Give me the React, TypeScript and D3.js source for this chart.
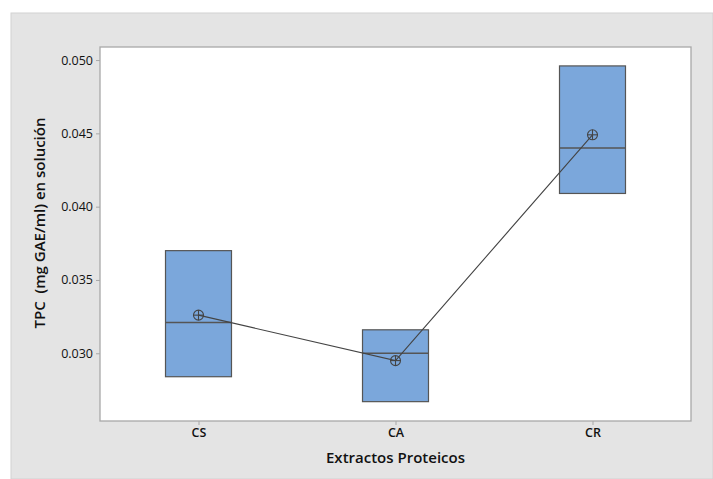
import React, { useEffect, useRef } from "react";
import * as d3 from "d3";

const categories = ["CS", "CA", "CR"];
const q1 = [0.0284, 0.0267, 0.0409];
const medians = [0.0321, 0.03, 0.044];
const q3 = [0.037, 0.0316, 0.0496];
const means = [0.0326, 0.0295, 0.0449];
const yTicks = [0.03, 0.035, 0.04, 0.045, 0.05];

export default function App() {
  const ref = useRef<SVGSVGElement | null>(null);

  useEffect(() => {
    if (!ref.current) return;
    const svg = d3.select(ref.current);
    svg.selectAll("*").remove();

    const W = 713;
    const H = 479;
    const plot = { left: 100, top: 47, right: 691, bottom: 421 };
    const font = "'Open Sans', 'Noto Sans', sans-serif";

    // gray panel
    svg.append("rect").attr("x", 0).attr("y", 0).attr("width", W).attr("height", H).attr("fill", "#fff");
    svg.append("rect").attr("x", 11).attr("y", 13).attr("width", W - 11).attr("height", H - 13)
      .attr("fill", "#e4e4e4").attr("stroke", "#d2d2d2").attr("stroke-width", 1);

    const x = d3.scalePoint<string>().domain(categories).range([plot.left, plot.right]).padding(0.5);
    const y = d3.scaleLinear().domain([0.02538, 0.05089]).range([plot.bottom, plot.top]);
    const boxW = x.step() * 0.335;

    svg.append("rect")
      .attr("x", plot.left).attr("y", plot.top)
      .attr("width", plot.right - plot.left).attr("height", plot.bottom - plot.top)
      .attr("fill", "#fff").attr("stroke", "#a8a8a8").attr("stroke-width", 1.3);

    // y axis
    const yAxis = svg.append("g")
      .attr("transform", `translate(${plot.left},0)`)
      .call(d3.axisLeft(y).tickValues(yTicks).tickFormat(d3.format(".3f")).tickSize(4).tickPadding(3));
    yAxis.select(".domain").remove();
    yAxis.selectAll("line").attr("stroke", "#a8a8a8");
    yAxis.selectAll("text").attr("font-family", font).attr("font-size", 12.5).attr("fill", "#111");

    // x axis
    const xAxis = svg.append("g")
      .attr("transform", `translate(0,${plot.bottom})`)
      .call(d3.axisBottom(x).tickSize(4).tickPadding(3));
    xAxis.select(".domain").remove();
    xAxis.selectAll("line").attr("stroke", "#a8a8a8");
    xAxis.selectAll("text").attr("font-family", font).attr("font-size", 12.5).attr("font-weight", 600).attr("fill", "#111");

    const data = categories.map((c, i) => ({ c, q1: q1[i], med: medians[i], q3: q3[i], mean: means[i] }));

    const boxes = svg.append("g");
    boxes.selectAll("rect").data(data).enter().append("rect")
      .attr("x", (d) => (x(d.c) as number) - boxW / 2)
      .attr("y", (d) => y(d.q3))
      .attr("width", boxW)
      .attr("height", (d) => y(d.q1) - y(d.q3))
      .attr("fill", "#7ba7db").attr("stroke", "#555").attr("stroke-width", 1.2);
    boxes.selectAll("line").data(data).enter().append("line")
      .attr("x1", (d) => (x(d.c) as number) - boxW / 2)
      .attr("x2", (d) => (x(d.c) as number) + boxW / 2)
      .attr("y1", (d) => y(d.med)).attr("y2", (d) => y(d.med))
      .attr("stroke", "#555").attr("stroke-width", 1.3);

    const line = d3.line<(typeof data)[number]>().x((d) => x(d.c) as number).y((d) => y(d.mean));
    svg.append("path").datum(data).attr("d", line).attr("fill", "none").attr("stroke", "#444").attr("stroke-width", 1.1);

    const r = 5;
    const sym = svg.append("g").selectAll("g").data(data).enter().append("g")
      .attr("transform", (d) => `translate(${x(d.c)},${y(d.mean)})`)
      .attr("stroke", "#444").attr("stroke-width", 1.1).attr("fill", "none");
    sym.append("circle").attr("r", r);
    sym.append("line").attr("x1", -r).attr("x2", r);
    sym.append("line").attr("y1", -r).attr("y2", r);

    svg.append("text")
      .attr("x", (plot.left + plot.right) / 2).attr("y", 463)
      .attr("text-anchor", "middle").attr("font-family", font).attr("font-size", 15).attr("font-weight", 600)
      .attr("fill", "#111").text("Extractos Proteicos");

    svg.append("text")
      .attr("transform", `translate(45,223) rotate(-90)`)
      .attr("text-anchor", "middle").attr("font-family", font).attr("font-size", 15).attr("font-weight", 600)
      .attr("fill", "#111").attr("xml:space", "preserve").style("white-space", "pre")
      .text("TPC  (mg GAE/ml) en solución");
  }, []);

  return (
    <svg ref={ref} width={713} height={479} style={{ position: "absolute", left: 0, top: 0 }} />
  );
}
